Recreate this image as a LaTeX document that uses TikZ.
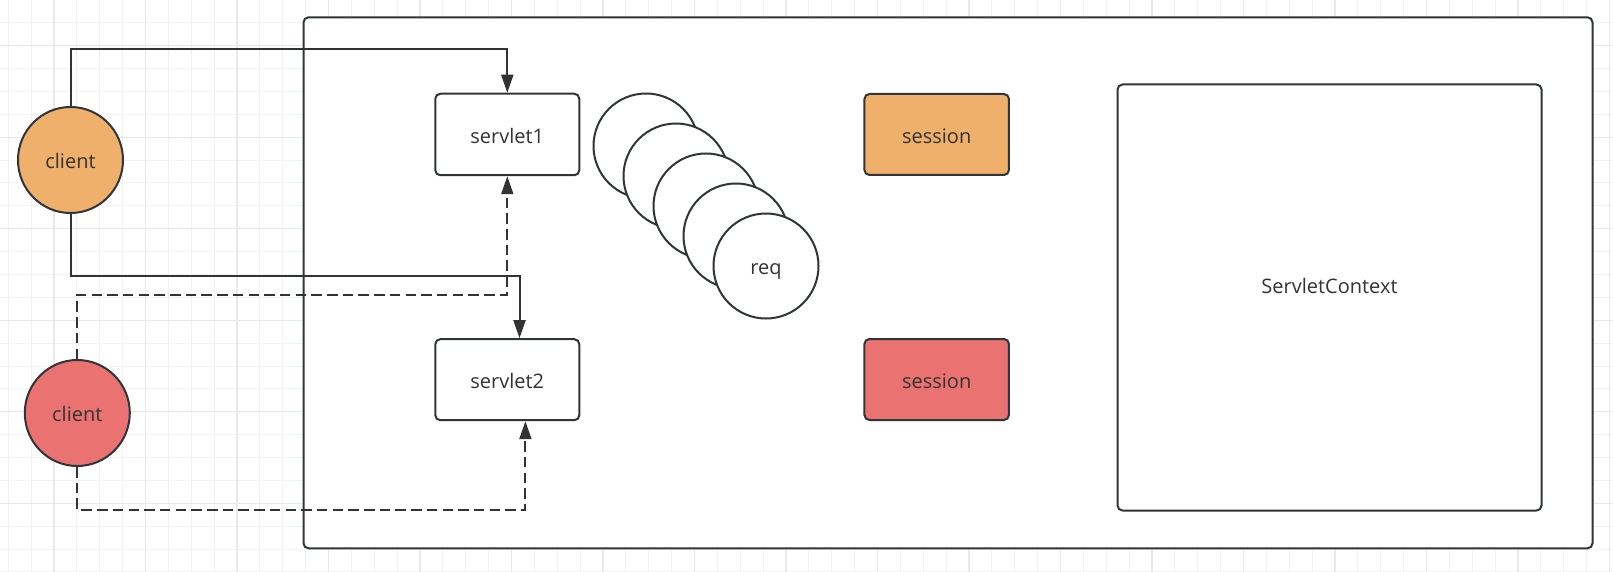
\documentclass[tikz,border=0pt]{standalone}
\usepackage{fontspec}
\setmainfont{Open Sans}
\usetikzlibrary{arrows.meta,shapes.geometric}
\definecolor{gridminor}{HTML}{F3F3F3}
\definecolor{gridmajor}{HTML}{E9E9E9}
\definecolor{edge}{HTML}{30353A}
\definecolor{conncol}{HTML}{333333}
\definecolor{txt}{HTML}{333333}
\definecolor{orangefill}{HTML}{EFB06C}
\definecolor{redfill}{HTML}{EA7371}
\tikzset{
  minorline/.style={draw=gridminor,line width=1pt},
  majorline/.style={draw=gridmajor,line width=1.3pt},
  base/.style={draw=edge,line width=2pt,text=txt,font=\fontsize{20}{24}\selectfont,inner sep=0pt,text height=17.6pt,text depth=0pt},
  boxnode/.style={base,rectangle,rounded corners=5pt},
  clientnode/.style={base,ellipse,minimum width=105pt,minimum height=106pt},
  reqnode/.style={base,circle,fill=white,minimum size=105pt},
  labelnode/.style={text=txt,font=\fontsize{20}{24}\selectfont,inner sep=0pt,text height=17.6pt,text depth=0pt},
  conn/.style={draw=conncol,line width=2pt,-{Triangle[length=18pt,width=12pt]}},
  dconn/.style={conn,dash pattern=on 10.5pt off 5.2pt},
}
\begin{document}
\begin{tikzpicture}[x=1pt,y=-1pt]
\useasboundingbox (0,0) rectangle (1613,572);
\fill[white] (0,0) rectangle (1613,572);
% grid
\foreach \k in {0,...,70} {\draw[minorline] ({8.25+22.875*\k},0) -- ({8.25+22.875*\k},572);}
\foreach \k in {0,...,25} {\draw[minorline] (0,{22.875*\k}) -- (1613,{22.875*\k});}
\foreach \k in {2,6,...,70} {\draw[majorline] ({8.25+22.875*\k},0) -- ({8.25+22.875*\k},572);}
\foreach \k in {2,6,...,22} {\draw[majorline] (0,{22.875*\k}) -- (1613,{22.875*\k});}
% container
\node[boxnode,fill=white,minimum width=1289pt,minimum height=531pt] (outer) at (948,282.8) {};
\node[boxnode,minimum width=424pt,minimum height=426pt] (ctx) at (1329.5,297.5) {};
\node[labelnode] (ctxlabel) at (1329.5,284.5) {ServletContext};
% servlets
\node[boxnode,minimum width=144pt,minimum height=81.5pt] (s1) at (507.3,134.5) {servlet1};
\node[boxnode,minimum width=144pt,minimum height=81pt] (s2) at (507.3,379.7) {servlet2};
% sessions
\node[boxnode,fill=orangefill,minimum width=144.5pt,minimum height=81pt] (ss1) at (936.7,134.5) {session};
\node[boxnode,fill=redfill,minimum width=144.5pt,minimum height=81pt] (ss2) at (936.7,379.5) {session};
% requests
\node[reqnode] (r1) at (646,146) {};
\node[reqnode] (r2) at (676,176) {};
\node[reqnode] (r3) at (706,206) {};
\node[reqnode] (r4) at (736,236) {};
\node[reqnode] (r5) at (766,266) {req};
% clients
\node[clientnode,fill=orangefill] (c1) at (70.5,160) {client};
\node[clientnode,fill=redfill] (c2) at (77.3,413) {client};
% bend coordinates
\coordinate (b1) at (507.3,49);
\coordinate (b2) at (519.5,276);
\coordinate (b3) at (507.3,294.7);
\coordinate (b4) at (525.4,510);
% connectors
\draw[conn] (c1.north) |- (b1) -- (s1.north);
\draw[conn] (c1.south) |- (b2) -- (b2 |- s2.north);
\draw[dconn] (c2.north) |- (b3) -- (s1.south);
\draw[dconn] (c2.south) |- (b4) -- (b4 |- s2.south);
\end{tikzpicture}
\end{document}
